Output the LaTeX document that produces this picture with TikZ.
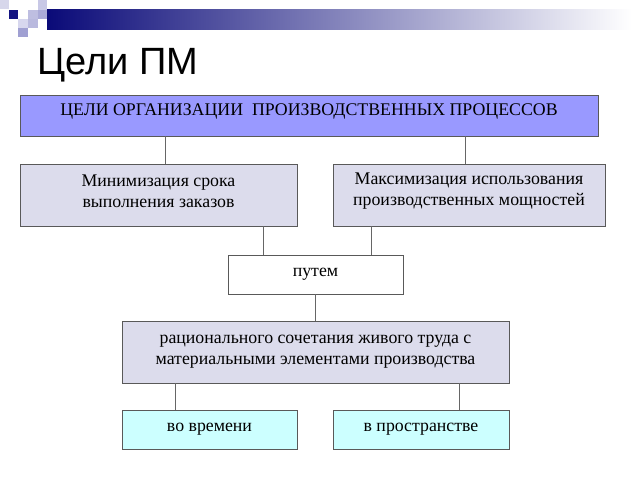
\documentclass[tikz,border=0pt]{standalone}
\usepackage{fontspec}
\setmainfont{Liberation Serif}
\newfontfamily\titlefont{Liberation Sans}
\definecolor{navy}{RGB}{10,10,120}
\definecolor{navyb}{RGB}{20,20,130}
\definecolor{sqa}{RGB}{215,215,235}
\definecolor{sqb}{RGB}{200,200,230}
\definecolor{sqc}{RGB}{190,190,225}
\definecolor{sqd}{RGB}{170,170,215}
\definecolor{sqe}{RGB}{215,215,238}
\definecolor{sqf}{RGB}{185,185,222}
\definecolor{sqg}{RGB}{160,160,210}
\definecolor{topfill}{RGB}{153,153,255}
\definecolor{lavfill}{RGB}{220,220,236}
\definecolor{cyanfill}{RGB}{204,255,255}
\begin{document}
\begin{tikzpicture}[x=1pt,y=-1pt,
  box/.style={draw=black!65,line width=0.8pt,inner sep=0pt,align=center,font=\fontsize{17.8}{21}\selectfont},
  txt/.style={inner sep=0pt,align=center,font=\fontsize{17.8}{21}\selectfont},
  conn/.style={draw=black!60,line width=0.8pt}]
\useasboundingbox (0,0) rectangle (640,480);
\fill[white] (0,0) rectangle (640,480);
% decoration
\shade[left color=navy,right color=white] (47,9) rectangle (632,29);
\fill[sqa] (0,0) rectangle (9,9);
\fill[sqb] (38,0) rectangle (47,10);
\fill[navyb] (9,10) rectangle (18,19);
\fill[sqc] (28,10) rectangle (38,19);
\fill[sqd] (38,10) rectangle (47,19);
\fill[sqe] (18,19) rectangle (28,28);
\fill[sqf] (28,19) rectangle (38,28);
\fill[sqg] (18,28) rectangle (28,37);
\node[anchor=base west,inner sep=0pt,font=\titlefont\fontsize{38}{40}\selectfont] (title) at (37,74) {Цели ПМ};
% boxes
\node[box,fill=topfill,minimum width=578,minimum height=41] (top) at (309,115.5) {};
\node[txt] (toptxt) at ([yshift=4pt]top.center) {ЦЕЛИ ОРГАНИЗАЦИИ\ \ ПРОИЗВОДСТВЕННЫХ ПРОЦЕССОВ};
\node[box,fill=lavfill,minimum width=277,minimum height=62] (min) at (158.5,195) {};
\node[txt] (mintxt) at ([yshift=3.5pt]min.center) {Минимизация срока\\выполнения заказов};
\node[box,fill=lavfill,minimum width=272,minimum height=62] (max) at (469,195) {};
\node[txt] (maxtxt) at ([yshift=3.5pt]max.center) {Максимизация использования\\производственных мощностей};
\node[box,fill=white,minimum width=175,minimum height=39] (way) at (315.5,274.5) {путем};
\node[box,fill=lavfill,minimum width=387,minimum height=62] (rat) at (315.5,352) {рационального сочетания живого труда с\\материальными элементами производства};
\node[box,fill=cyanfill,minimum width=175,minimum height=39] (time) at (209.5,429.5) {во времени};
\node[box,fill=cyanfill,minimum width=176,minimum height=39] (space) at (421,429.5) {в пространстве};
% connectors
\draw[conn] ([xshift=-144pt]top.south) -- ([xshift=6.5pt]min.north);
\draw[conn] ([xshift=156pt]top.south) -- ([xshift=-4pt]max.north);
\draw[conn] ([xshift=104.5pt]min.south) -- ([xshift=-52.5pt]way.north);
\draw[conn] ([xshift=-98pt]max.south) -- ([xshift=55.5pt]way.north);
\draw[conn] (way.south) -- (rat.north);
\draw[conn] ([xshift=-140.5pt]rat.south) -- ([xshift=-34.5pt]time.north);
\draw[conn] ([xshift=143.5pt]rat.south) -- ([xshift=38pt]space.north);
\end{tikzpicture}
\end{document}
